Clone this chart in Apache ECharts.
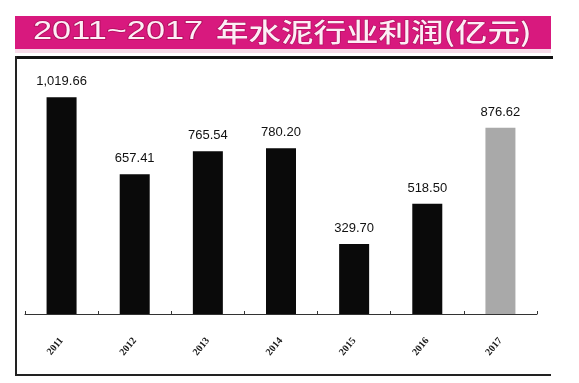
<!DOCTYPE html>
<html><head><meta charset="utf-8">
<script src="https://cdn.jsdelivr.net/npm/echarts@6/dist/echarts.min.js"></script>
<style>html,body{margin:0;padding:0;background:#fff}#c{width:579px;height:383px}</style>
</head><body><div id="c"></div>
<script>
const categories = ['2011','2012','2013','2014','2015','2016','2017'];
const profits = [1019.66, 657.41, 765.54, 780.20, 329.70, 518.50, 876.62];
const titleYears = '2011~2017';
const titleRest = '年水泥行业利润(亿元)';

const chart = echarts.init(document.getElementById('c'));
chart.setOption({
  animation: false,
  backgroundColor: '#fff',
  grid: {left: 25, right: 42, top: 59, bottom: 69},
  xAxis: {
    type: 'category', data: categories,
    axisLine: {lineStyle: {color: '#333', width: 1}},
    axisTick: {show: true, inside: true, length: 3, lineStyle: {color: '#333'}},
    axisLabel: {rotate: 50, margin: 25, color: '#1a1a1a', fontFamily: 'Liberation Serif', fontSize: 10, fontWeight: 'bold'}
  },
  yAxis: {type: 'value', min: 0, max: 1200, show: false, splitLine: {show: false}},
  series: [{
    type: 'bar', barWidth: 30,
    data: profits.map((v, i) => ({value: v, itemStyle: {color: i === profits.length - 1 ? '#a9a9a9' : '#0a0a0a'}})),
    label: {
      show: true, position: 'top', distance: 9, color: '#111',
      fontFamily: 'Liberation Sans Narrow, Liberation Sans', fontSize: 13,
      formatter: p => p.value.toLocaleString('en-US', {minimumFractionDigits: 2, maximumFractionDigits: 2})
    }
  }],
  graphic: [
    {type: 'rect', shape: {x: 15, y: 16, width: 536, height: 33}, style: {fill: '#d8197e'}},
    {type: 'rect', shape: {x: 15, y: 49, width: 536, height: 4}, style: {fill: '#f7dbe9'}},
    {type: 'text', x: 33, y: 32, scaleX: 1.32, originX: 0, originY: 0,
      style: {text: titleYears, fill: '#fdeef6', stroke: '#b0105e', lineWidth: 1.6,
      font: '26px "Liberation Sans", sans-serif', align: 'left', verticalAlign: 'middle'}},
    {type: 'text', x: 216, y: 32, scaleX: 1.25, originX: 0, originY: 0,
      style: {text: titleRest, fill: '#fdeef6', stroke: '#b0105e', lineWidth: 1.2,
      font: '500 26px "Noto Sans CJK SC", sans-serif', align: 'left', verticalAlign: 'middle'}},
    {type: 'rect', shape: {x: 15, y: 56, width: 538, height: 3}, style: {fill: '#111'}},
    {type: 'rect', shape: {x: 15, y: 56, width: 2, height: 320}, style: {fill: '#222'}},
    {type: 'rect', shape: {x: 15, y: 374, width: 536, height: 2}, style: {fill: '#222'}}
  ]
});
</script></body></html>
